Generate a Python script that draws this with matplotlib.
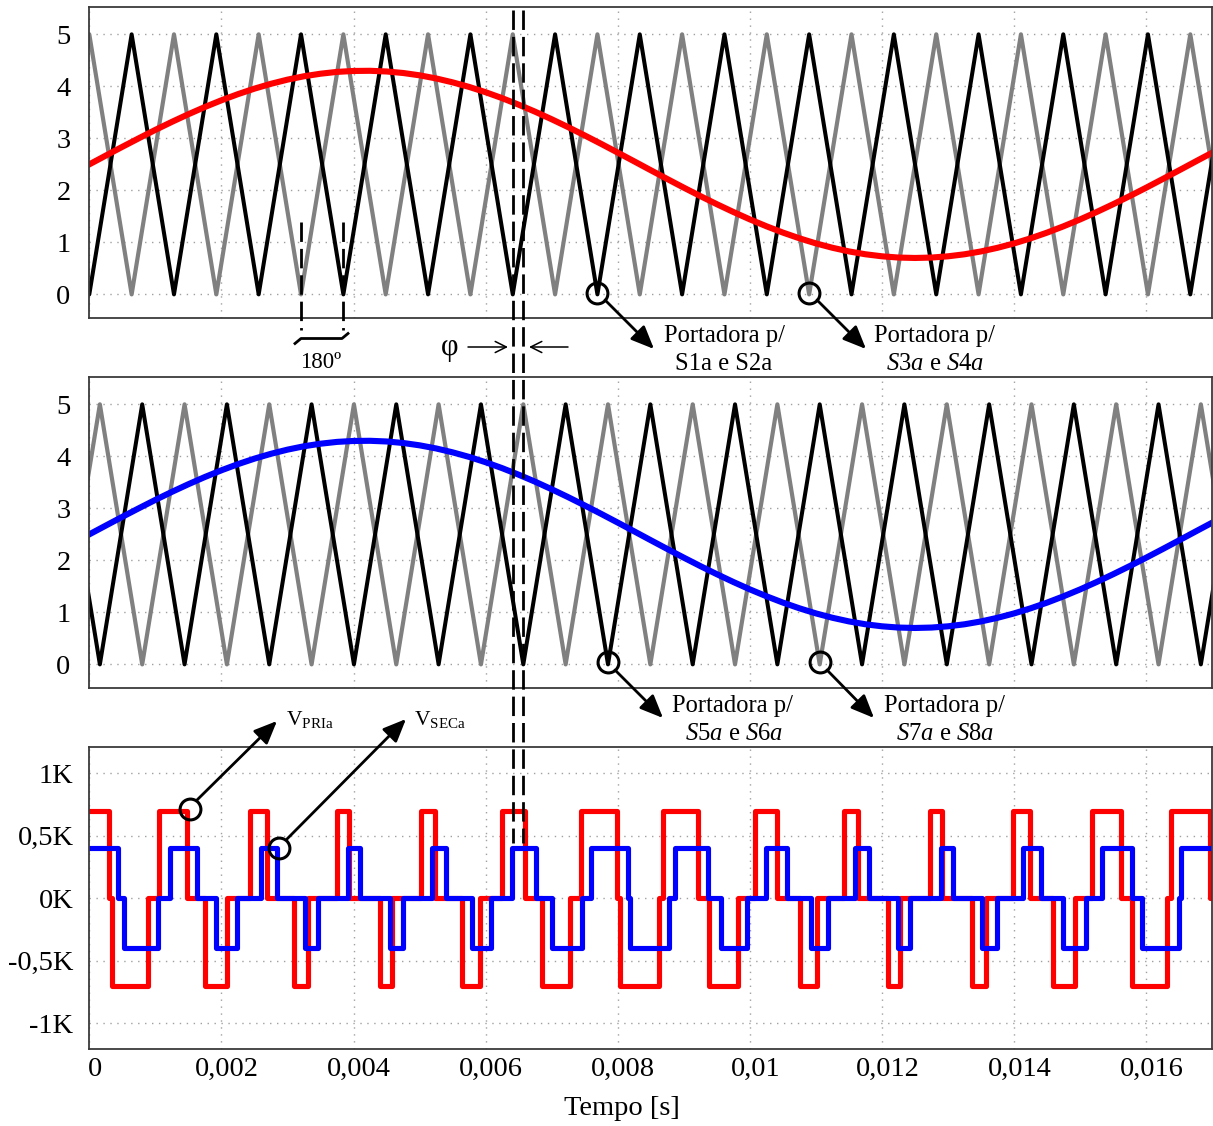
import numpy as np
import matplotlib
matplotlib.use("Agg")
import matplotlib.pyplot as plt
from matplotlib.lines import Line2D
from matplotlib.patches import FancyArrowPatch
from matplotlib import transforms

# --- Data (times in ms) ---
# triangular carriers: vertex times and levels (top panel), middle panel is shifted by phi
carrier_ms = [-0.641, 0.000, 0.641, 1.282, 1.923, 2.564, 3.205, 3.846, 4.487, 5.128,
              5.769, 6.410, 7.051, 7.692, 8.333, 8.974, 9.615, 10.256, 10.897, 11.538,
              12.179, 12.821, 13.462, 14.103, 14.744, 15.385, 16.026, 16.667, 17.308]
gray_carrier = [0, 5, 0, 5, 0, 5, 0, 5, 0, 5, 0, 5, 0, 5, 0, 5, 0, 5, 0, 5, 0, 5, 0, 5, 0, 5, 0, 5, 0]
black_carrier = [5, 0, 5, 0, 5, 0, 5, 0, 5, 0, 5, 0, 5, 0, 5, 0, 5, 0, 5, 0, 5, 0, 5, 0, 5, 0, 5, 0, 5]
phi_ms = 0.16

# modulating reference (same in both carrier panels)
sine_ms = [0.00, 0.25, 0.50, 0.75, 1.00, 1.25, 1.50, 1.75, 2.00, 2.25, 2.50, 2.75, 3.00, 3.25,
           3.50, 3.75, 4.00, 4.25, 4.50, 4.75, 5.00, 5.25, 5.50, 5.75, 6.00, 6.25, 6.50, 6.75,
           7.00, 7.25, 7.50, 7.75, 8.00, 8.25, 8.50, 8.75, 9.00, 9.25, 9.50, 9.75, 10.00, 10.25,
           10.50, 10.75, 11.00, 11.25, 11.50, 11.75, 12.00, 12.25, 12.50, 12.75, 13.00, 13.25,
           13.50, 13.75, 14.00, 14.25, 14.50, 14.75, 15.00, 15.25, 15.50, 15.75, 16.00, 16.25,
           16.50, 16.75, 17.00]
sine_ref = [2.500, 2.669, 2.837, 3.002, 3.163, 3.317, 3.464, 3.603, 3.732, 3.850, 3.956, 4.049,
            4.129, 4.194, 4.243, 4.278, 4.296, 4.299, 4.286, 4.257, 4.212, 4.152, 4.077, 3.989,
            3.887, 3.773, 3.647, 3.512, 3.367, 3.215, 3.056, 2.893, 2.726, 2.557, 2.387, 2.218,
            2.052, 1.890, 1.734, 1.584, 1.442, 1.310, 1.188, 1.078, 0.980, 0.896, 0.826, 0.771,
            0.732, 0.708, 0.700, 0.708, 0.732, 0.771, 0.826, 0.896, 0.980, 1.078, 1.188, 1.310,
            1.442, 1.584, 1.734, 1.890, 2.052, 2.218, 2.387, 2.557, 2.726]

# V_PRIa: switching instants and level after each instant
vpri_ms = [0.000, 0.295, 0.351, 0.886, 1.051, 1.480, 1.744, 2.081, 2.426, 2.689, 3.097, 3.307,
           3.754, 3.937, 4.397, 4.580, 5.026, 5.236, 5.645, 5.907, 6.253, 6.590, 6.853, 7.283,
           7.447, 7.982, 8.038, 8.628, 8.684, 9.219, 9.384, 9.814, 10.077, 10.414, 10.760,
           11.022, 11.430, 11.640, 12.087, 12.270, 12.730, 12.913, 13.360, 13.570, 13.978,
           14.240, 14.586, 14.923, 15.186, 15.616, 15.781, 16.316, 16.372, 16.962]
vpri_v = [700, 0, -700, 0] * 13 + [700, 0]

# V_SECa
vsec_ms = [0.000, 0.442, 0.526, 1.034, 1.224, 1.630, 1.915, 2.232, 2.595, 2.842, 3.262, 3.463,
           3.915, 4.096, 4.555, 4.742, 5.182, 5.403, 5.797, 6.076, 6.403, 6.762, 7.002, 7.457,
           7.595, 8.158, 8.186, 8.776, 8.859, 9.367, 9.558, 9.963, 10.248, 10.565, 10.928,
           11.175, 11.595, 11.796, 12.249, 12.429, 12.888, 13.076, 13.515, 13.736, 14.131,
           14.410, 14.737, 15.095, 15.335, 15.790, 15.929, 16.491, 16.519]
vsec_v = [400, 0, -400, 0] * 13 + [400]

t_end_ms = 17.0
xticks = [0, 0.002, 0.004, 0.006, 0.008, 0.010, 0.012, 0.014, 0.016]
xtick_labels = ['0', '0,002', '0,004', '0,006', '0,008', '0,01', '0,012', '0,014', '0,016']
yticks_v = [-1000, -500, 0, 500, 1000]
ytick_labels_v = ['-1K', '-0,5K', '0K', '0,5K', '1K']

# --- Style ---
plt.rcParams['font.family'] = 'Liberation Serif'
plt.rcParams['mathtext.fontset'] = 'custom'
plt.rcParams['mathtext.rm'] = 'Liberation Serif'
plt.rcParams['mathtext.it'] = 'Liberation Serif:italic'

W, H = 1213, 1126
fig = plt.figure(figsize=(W / 100, H / 100), dpi=100)


def box(top, bottom):
    return [89.3 / W, 1 - bottom / H, (1212.3 - 89.3) / W, (bottom - top) / H]


ax1 = fig.add_axes(box(7.3, 318.3))
ax2 = fig.add_axes(box(377.3, 688.3))
ax3 = fig.add_axes(box(746.7, 1049))

tc = np.array(carrier_ms) / 1000
ts = np.array(sine_ms) / 1000
phi = phi_ms / 1000

ax1.plot(tc, gray_carrier, color='#808080', lw=3)
ax1.plot(tc, black_carrier, color='black', lw=2.9)
ax1.plot(ts, sine_ref, color='#ff0000', lw=4.4)

ax2.plot(tc + phi, gray_carrier, color='#808080', lw=3)
ax2.plot(tc + phi, black_carrier, color='black', lw=2.9)
ax2.plot(ts, sine_ref, color='#0000ff', lw=4.4)

ax3.step(np.append(vpri_ms, t_end_ms) / 1000, vpri_v + vpri_v[-1:], where='post',
         color='#ff0000', lw=3.7)
ax3.step(np.append(vsec_ms, t_end_ms) / 1000, vsec_v + vsec_v[-1:], where='post',
         color='#0000ff', lw=3.7)

for ax in (ax1, ax2, ax3):
    ax.set_xlim(0, 0.017)
    ax.set_xticks(xticks)
    ax.set_axisbelow(True)
    ax.grid(True, color='#a0a0a0', linestyle=(0, (1, 4)), linewidth=1)
    ax.tick_params(length=0, labelsize=20.5)
    for sp in ax.spines.values():
        sp.set_color('#3a3a3a')
        sp.set_linewidth(1.3)

for ax in (ax1, ax2):
    ax.set_ylim(-0.46, 5.52)
    ax.set_yticks([0, 1, 2, 3, 4, 5])
    ax.tick_params(axis='y', pad=13.5)
    ax.tick_params(axis='x', labelbottom=False)

ax3.set_ylim(-1206, 1213)
ax3.set_yticks(yticks_v)
ax3.set_yticklabels(ytick_labels_v)
ax3.tick_params(axis='y', pad=11.4)
ax3.tick_params(axis='x', pad=5.8)
ax3.set_xticklabels(xtick_labels)
shift = transforms.ScaledTranslation(5.5 / 100, 0, fig.dpi_scale_trans)
for lab in ax3.get_xticklabels():
    lab.set_transform(lab.get_transform() + shift)
ax3.set_xlabel('Tempo [s]', fontsize=20.5)
ax3.xaxis.set_label_coords(0.474, -0.154)

# --- Annotations (positions in figure pixels, y from top) ---
def ff(x, y):
    return (x / W, 1 - y / H)


def arrow(p0, p1, lw=2.0, style='-|>,head_length=0.7,head_width=0.3', scale=20):
    fig.add_artist(FancyArrowPatch(ff(*p0), ff(*p1), transform=fig.transFigure,
                                   arrowstyle=style, mutation_scale=scale, lw=lw,
                                   color='black', shrinkA=0, shrinkB=0, zorder=6))


bl = transforms.blended_transform_factory(ax1.transData, fig.transFigure)
dash = (0, (7, 2.5))
for tx in (tc[11], tc[11] + phi):
    fig.add_artist(Line2D([tx, tx], [1 - 10 / H, 1 - 843 / H], transform=bl,
                          color='black', lw=2, linestyle=dash))
for tx in (tc[6], tc[7]):
    fig.add_artist(Line2D([tx, tx], [1 - 222 / H, 1 - 330 / H], transform=bl,
                          color='black', lw=2, linestyle=dash))

# 180 degree dimension mark
fig.add_artist(Line2D([295 / W, 301 / W, 342 / W, 348 / W],
                      [1 - 343.5 / H, 1 - 338.5 / H, 1 - 338.5 / H, 1 - 333.5 / H],
                      color='black', lw=2))
fig.text(320.5 / W, 1 - 368.5 / H, '180º', ha='center', va='baseline', fontsize=16.5)

# phi mark
fig.text(450 / W, 1 - 347 / H, 'φ', ha='center', va='center', fontsize=22)
arrow((468, 347), (508, 347), lw=1.1, style='->,head_length=0.5,head_width=0.25', scale=16)
arrow((568, 347), (529, 347), lw=1.1, style='->,head_length=0.5,head_width=0.25', scale=16)

# circles on carriers / waveforms
circ = dict(marker='o', ms=15, mfc='none', mec='black', mew=2.2, ls='none', clip_on=False, zorder=5)
ax1.plot([tc[13]], [0.03], **circ)
ax1.plot([tc[18]], [0.03], **circ)
ax2.plot([tc[13] + phi], [0.05], **circ)
ax2.plot([tc[18] + phi], [0.05], **circ)
ax3.plot([0.001529], [715], **circ)
ax3.plot([0.002875], [405], **circ)

arrow((605, 300), (654, 349))
arrow((817, 300), (866, 349))
arrow((615, 670), (663, 718))
arrow((827, 670), (874, 718))
arrow((197, 800), (277, 721))
arrow((287, 839), (406, 719))

fs = 17.7
fig.text(724 / W, 1 - 341.7 / H, 'Portadora p/', ha='center', va='baseline', fontsize=fs)
fig.text(724 / W, 1 - 370 / H, 'S1a e S2a', ha='center', va='baseline', fontsize=fs)
fig.text(934 / W, 1 - 341.7 / H, 'Portadora p/', ha='center', va='baseline', fontsize=fs)
fig.text(935 / W, 1 - 370 / H, r'$\mathit{S3a}$ e $\mathit{S4a}$', ha='center', va='baseline', fontsize=fs)
fig.text(732 / W, 1 - 711.7 / H, 'Portadora p/', ha='center', va='baseline', fontsize=fs)
fig.text(734 / W, 1 - 740 / H, r'$\mathit{S5a}$ e $\mathit{S6a}$', ha='center', va='baseline', fontsize=fs)
fig.text(944 / W, 1 - 711.7 / H, 'Portadora p/', ha='center', va='baseline', fontsize=fs)
fig.text(945 / W, 1 - 740 / H, r'$\mathit{S7a}$ e $\mathit{S8a}$', ha='center', va='baseline', fontsize=fs)

fig.text(286 / W, 1 - 725 / H, r'$\mathrm{V}_{\mathrm{PRIa}}$', ha='left', va='baseline', fontsize=15.5)
fig.text(414 / W, 1 - 725 / H, r'$\mathrm{V}_{\mathrm{SECa}}$', ha='left', va='baseline', fontsize=15.5)

fig.savefig('out.png', dpi=100)
